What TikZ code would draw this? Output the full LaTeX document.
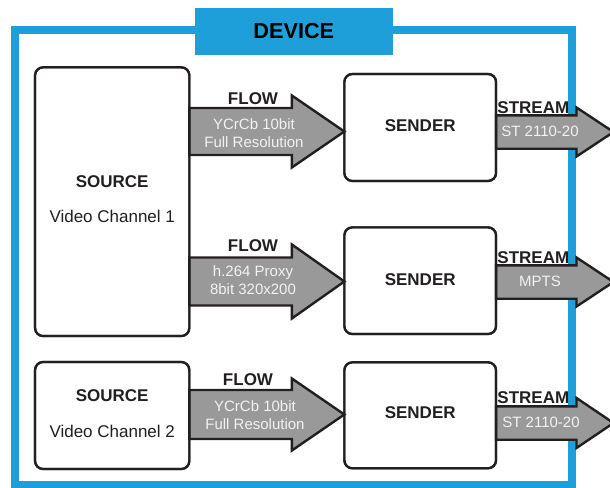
\documentclass[tikz,border=0pt]{standalone}
\usepackage{fontspec}
\setmainfont{Liberation Sans}
\usetikzlibrary{calc}
\definecolor{devblue}{RGB}{30,159,218}
\definecolor{ink}{RGB}{35,31,32}
\definecolor{arrowgray}{RGB}{153,153,153}
\definecolor{arrowtext}{RGB}{242,242,242}
\newcommand\fatarr[5]{% #1 start, #2 tip, #3 head length, #4 shaft half, #5 head half
  \draw[fatarrow] ($(#1)+(0,-#4)$) -- ($(#2)+(-#3,-#4)$) -- ($(#2)+(-#3,-#5)$) -- (#2)
    -- ($(#2)+(-#3,#5)$) -- ($(#2)+(-#3,#4)$) -- ($(#1)+(0,#4)$) -- cycle;}
\begin{document}
\begin{tikzpicture}[x=1pt,y=-1pt,
  box/.style={draw=ink, line width=2.2pt, rounded corners=8pt, fill=white, inner sep=0pt, outer sep=0pt},
  fatarrow/.style={draw=ink, fill=arrowgray, line width=2.4pt, line join=miter},
  lbl/.style={font=\fontsize{17}{20}\selectfont\bfseries, text=ink, inner sep=0pt},
  sub/.style={font=\fontsize{17}{20}\selectfont, text=ink, inner sep=0pt},
  atext/.style={font=\fontsize{15}{18}\selectfont, text=arrowtext, align=center, inner sep=0pt},
  frame/.style={draw=devblue, line width=8pt},
  devbox/.style={fill=devblue, minimum width=197.7pt, minimum height=47.6pt, inner sep=0pt,
    font=\fontsize{21.7}{24}\selectfont\bfseries, text=black}]
\useasboundingbox (0,0) rectangle (610,487);
\clip (0,0) rectangle (610,487);
% device frame
\draw[frame] (15,30) rectangle (572.2,485);
\node[devbox] (device) at (293.8,31.5) {DEVICE};
% boxes
\node[box, minimum width=154.3pt, minimum height=268.7pt] (src1) at (112.2,201.7) {};
\node[box, minimum width=154.3pt, minimum height=107pt] (src2) at (112.2,415.5) {};
\node[box, minimum width=151.7pt, minimum height=107pt] (snd1) at (420.2,127.5) {};
\node[box, minimum width=151.7pt, minimum height=106.7pt] (snd2) at (420.2,280.7) {};
\node[box, minimum width=151.7pt, minimum height=106pt] (snd3) at (420.2,415.3) {};
% arrow anchor points
\coordinate (f1s) at (src1.east |- 0,131.5);
\coordinate (f1t) at (snd1.west |- 0,131.5);
\coordinate (f2s) at (src1.east |- 0,281.5);
\coordinate (f2t) at (snd2.west |- 0,281.5);
\coordinate (f3s) at (src2.east |- 0,414.5);
\coordinate (f3t) at (snd3.west |- 0,414.5);
\coordinate (s1s) at (snd1.east |- 0,132);
\coordinate (s1t) at (613.5,132);
\coordinate (s2s) at (snd2.east |- 0,282);
\coordinate (s2t) at (613.5,282);
\coordinate (s3s) at (snd3.east |- 0,423);
\coordinate (s3t) at (613.5,423);
% flow arrows
\fatarr{f1s}{f1t}{52.5}{23.5}{36}
\fatarr{f2s}{f2t}{52.5}{24}{37}
\fatarr{f3s}{f3t}{52.5}{24.5}{36}
% stream arrows
\fatarr{s1s}{s1t}{37}{16.7}{24.5}
\fatarr{s2s}{s2t}{37}{16.7}{24.5}
\fatarr{s3s}{s3t}{37}{16.7}{25}
% redraw box borders over arrow ends
\draw[draw=ink, line width=2.2pt, rounded corners=8pt] (src1.south west) rectangle (src1.north east);
\draw[draw=ink, line width=2.2pt, rounded corners=8pt] (src2.south west) rectangle (src2.north east);
\draw[draw=ink, line width=2.2pt, rounded corners=8pt] (snd1.south west) rectangle (snd1.north east);
\draw[draw=ink, line width=2.2pt, rounded corners=8pt] (snd2.south west) rectangle (snd2.north east);
\draw[draw=ink, line width=2.2pt, rounded corners=8pt] (snd3.south west) rectangle (snd3.north east);
% box texts
\node[lbl] (src1a) at ($(src1.center)+(0,-19.7)$) {SOURCE};
\node[sub] (src1b) at ($(src1.center)+(0,15)$) {Video Channel 1};
\node[lbl] (src2a) at ($(src2.center)+(0,-19.5)$) {SOURCE};
\node[sub] (src2b) at ($(src2.center)+(0,16.2)$) {Video Channel 2};
\node[lbl] (snd1a) at ($(snd1.center)+(0,-1.5)$) {SENDER};
\node[lbl] (snd2a) at ($(snd2.center)+(0,-1.5)$) {SENDER};
\node[lbl] (snd3a) at ($(snd3.center)+(0,-2.5)$) {SENDER};
% flow labels
\node[lbl] (fl1) at (253,98.3) {FLOW};
\node[lbl] (fl2) at (253,246) {FLOW};
\node[lbl] (fl3) at (248,380) {FLOW};
\node[atext] (ft1) at (254,133) {YCrCb 10bit\\Full Resolution};
\node[atext] (ft2) at (253,280.5) {h.264 Proxy\\8bit 320x200};
\node[atext] (ft3) at (255,415) {YCrCb 10bit\\Full Resolution};
% stream labels
\node[atext] (st1) at (540,131.7) {ST 2110-20};
\node[atext] (st2) at (540,281.7) {MPTS};
\node[atext] (st3) at (541,422.7) {ST 2110-20};
\node[lbl] (sl1) at (533.3,107.3) {STREAM};
\node[lbl] (sl2) at (533.3,257.3) {STREAM};
\node[lbl] (sl3) at (533.3,397.3) {STREAM};
\end{tikzpicture}
\end{document}
